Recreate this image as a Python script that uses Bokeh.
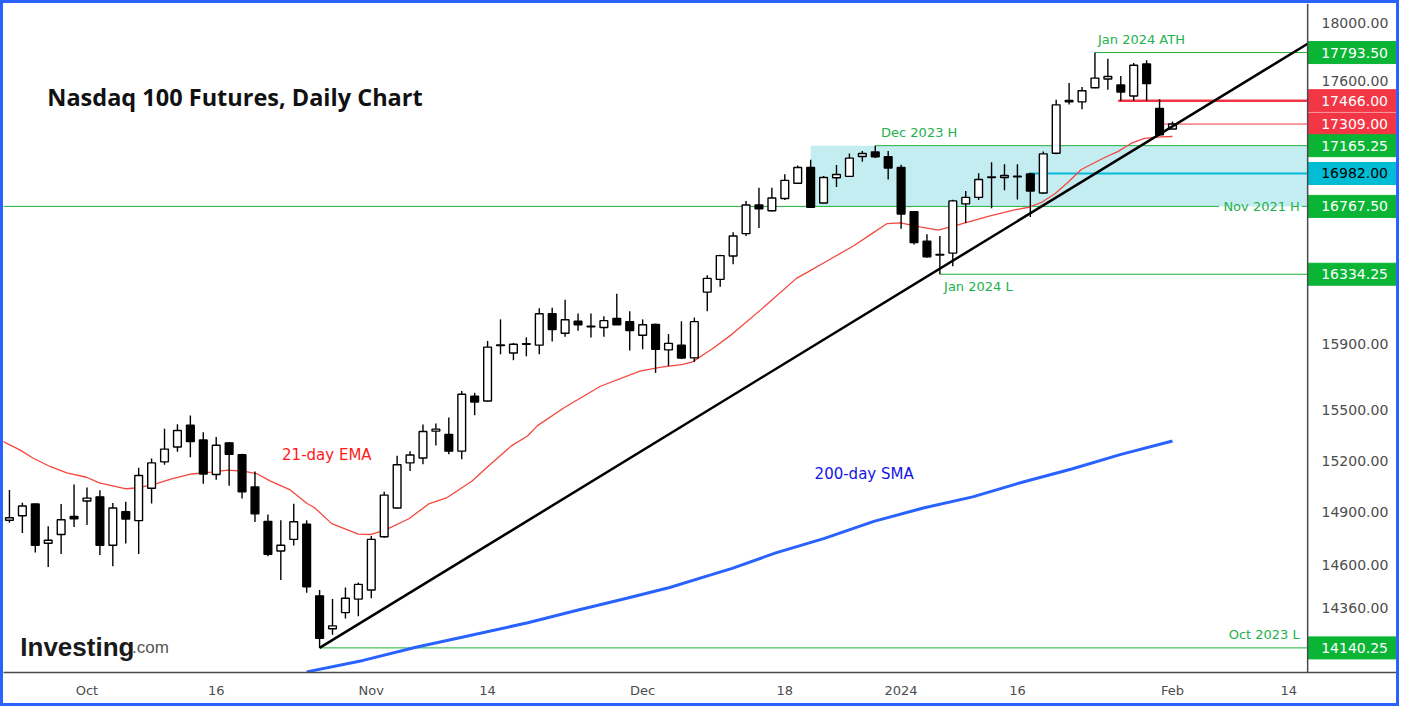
import pandas as pd
from bokeh.plotting import figure
from bokeh.models import (Range1d, FixedTicker, NumeralTickFormatter, Label,
                          ColumnDataSource, Span)
from bokeh.core.properties import value
from bokeh.embed import file_html
from bokeh.resources import INLINE

# ---------------- data ----------------
holidays = ["2023-11-23", "2023-12-25", "2024-01-01", "2024-01-15"]
trading_days = [d for d in pd.bdate_range("2023-09-22", "2024-02-16")
                if d.strftime("%Y-%m-%d") not in holidays]

open_ = [14854, 14880, 14948, 14723, 14773, 14876, 14965, 14989, 14712, 14904,
         14852, 15039, 15193, 15280, 15409, 15322, 15119, 15305, 15235, 15046,
         14848, 14679, 14745, 14831, 14427, 14245, 14334, 14409, 14460, 14760,
         14925, 15187, 15216, 15374, 15355, 15256, 15583, 15554, 15890, 15845,
         15899, 15893, 16087, 15966, 16040, 16006, 16002, 16057, 16038, 15954,
         16021, 15864, 15893, 15815, 16222, 16302, 16450, 16592, 16777, 16739,
         16819, 16918, 17021, 16790, 16954, 16963, 17094, 17124, 17092, 17021,
         16733, 16544, 16455, 16468, 16784, 16826, 16956, 16956, 16961, 16979,
         16854, 17115, 17468, 17458, 17553, 17613, 17572, 17498, 17715, 17414,
         17276]
high = [15029, 14955, 14950, 14820, 14948, 15061, 15044, 15027, 14953, 14961,
        15159, 15212, 15388, 15415, 15468, 15368, 15339, 15310, 15241, 15137,
        14887, 14854, 14949, 14854, 14460, 14410, 14474, 14502, 14764, 15018,
        15229, 15256, 15413, 15419, 15456, 15615, 15603, 15919, 16052, 15907,
        15941, 16121, 16124, 16174, 16089, 16089, 16071, 16211, 16102, 16052,
        16026, 15961, 16040, 16063, 16328, 16457, 16601, 16803, 16888, 16888,
        16977, 17034, 17072, 16965, 17037, 17113, 17130, 17165.25, 17130, 17040,
        16735, 16589, 16577, 16811, 16868, 16984, 17055, 17042, 17042, 16986,
        17126, 17473, 17586, 17559, 17793.5, 17751, 17633, 17722, 17740, 17475,
        17326]
low = [14840, 14782, 14671, 14588, 14662, 14816, 14827, 14656, 14593, 14721,
       14662, 14951, 15176, 15252, 15220, 15065, 15088, 15053, 14980, 14844,
       14649, 14516, 14710, 14445, 14140.25, 14212, 14302, 14314, 14414, 14755,
       14920, 15139, 15179, 15289, 15237, 15208, 15469, 15550, 15837, 15801,
       15825, 15837, 15916, 15945, 15981, 15940, 15945, 16017, 15861, 15868,
       15724, 15766, 15808, 15791, 16103, 16256, 16398, 16577, 16629, 16735,
       16809, 16915, 16760, 16788, 16894, 16960, 17059, 17083, 16943, 16623,
       16523, 16438, 16334.25, 16384, 16661, 16809, 16756, 16873, 16813, 16699,
       16848, 17109, 17440, 17409, 17550, 17539, 17466, 17466, 17466, 17230,
       17274]
close = [14869, 14936, 14712, 14740, 14857, 14863, 14982, 14712, 14925, 14861,
         15113, 15187, 15268, 15378, 15312, 15122, 15291, 15237, 15019, 14891,
         14660, 14712, 14846, 14478, 14192, 14261, 14414, 14491, 14745, 14999,
         15176, 15233, 15372, 15386, 15256, 15595, 15548, 15881, 15895, 15899,
         15902, 16087, 15989, 16050, 16019, 16009, 16044, 16019, 15983, 16019,
         15868, 15904, 15814, 16038, 16308, 16452, 16577, 16777, 16752, 16822,
         16937, 17021, 16762, 16956, 16975, 17083, 17113, 17092, 17018, 16718,
         16535, 16444, 16460, 16803, 16826, 16943, 16960, 16969, 16964, 16867,
         17111, 17438, 17458, 17533, 17619, 17630, 17524, 17706, 17581, 17238,
         17309]

# 21-day EMA (bar position, value)
ema_pos = [-0.54, 0.84, 1.84, 3.14, 4.44, 5.97, 6.96, 9.03, 10.02, 11.32, 12.55,
           14.08, 15.61, 16.91, 18.21, 19.2, 20.2, 21.73, 23.03, 23.57, 24.94,
           26.99, 28.0, 29.15, 30.91, 32.44, 33.87, 35.78, 37.03, 38.84, 40.09,
           40.86, 42.92, 45.73, 48.79, 50.32, 52.1, 52.87, 53.89, 54.4, 55.93,
           58.45, 60.9, 61.8, 63.33, 65.34, 66.77, 67.92, 68.94, 70.47, 71.87,
           73.27, 75.06, 75.82, 77.86, 78.88, 79.88, 80.93, 81.94, 82.94, 84.75,
           85.77, 86.79, 87.81, 89.06, 90.0]
ema_val = [15314, 15262, 15214, 15166, 15128, 15103, 15070, 15036, 15042, 15065,
           15093, 15122, 15133, 15145, 15137, 15122, 15080, 15029, 14951, 14929,
           14835, 14775, 14773, 14801, 14863, 14948, 14985, 15080, 15166, 15287,
           15345, 15407, 15514, 15643, 15735, 15757, 15775, 15791, 15845, 15871,
           15961, 16133, 16308, 16349, 16421, 16515, 16594, 16657, 16661, 16636,
           16615, 16645, 16687, 16704, 16746, 16762, 16794, 16851, 16926, 17008,
           17087, 17126, 17180, 17213, 17224, 17226]

# 200-day SMA
sma_pos = [23.0, 27.37, 31.45, 35.02, 40.11, 43.94, 47.77, 51.09, 54.4, 55.93,
           59.24, 63.07, 66.89, 70.72, 74.54, 78.37, 82.2, 86.02, 90.0]
sma_val = [14010, 14072, 14144, 14198, 14278, 14347, 14414, 14474, 14547, 14581,
           14667, 14751, 14848, 14925, 14989, 15074, 15151, 15237, 15316]

tick_dates = ["2023-10-02", "2023-10-16", "2023-11-01", "2023-11-14", "2023-12-01",
              "2023-12-18", "2024-01-02", "2024-01-16", "2024-02-01", "2024-02-14"]
tick_labels = ["Oct", "16", "Nov", "14", "Dec", "18", "2024", "16", "Feb", "14"]
y_ticks = [14360, 14600, 14900, 15200, 15500, 15900, 17600, 18000]

levels = [17793.50, 17466.00, 17309.00, 17165.25, 16982.00, 16767.50, 16334.25, 14140.25]
level_start = [84.0, 85.8, 89.2, 67.0, 78.9, None, 72.0, 24.0]
level_kind = ["g", "r", "r", "g", "c", "g", "g", "g"]
level_width = [1, 2.5, 1, 1, 2, 1, 1, 1]

zone_left, zone_top, zone_bottom = 62.0, 17165.25, 16767.50
trend_start = (24.0, 14140.25)
trend_end = (100.46, 17854.0)

level_texts = ["Jan 2024 ATH", "Dec 2023 H", "Nov 2021 H", "Jan 2024 L", "Oct 2023 L"]
level_text_pos = [(87.6, 17881), (70.4, 17256), (96.9, 16767.5), (74.98, 16260), (97.1, 14215)]
nov_gap = (93.6, 100.0)

X_START, X_SPLIT, X_FULL = -0.46, 100.46, 107.8
BADGE_X = 104.09
Y_LOW, Y_HIGH = 14006.5, 18133.6

GREEN_LINE = "#21b13a"
GREEN_BADGE = "#0ab536"
GREEN_TEXT = "#22b14c"
RED = "#f23645"
CYAN = "#00bcd4"
line_colors = {"g": GREEN_LINE, "r": RED, "c": CYAN}
badge_colors = {"g": GREEN_BADGE, "r": RED, "c": CYAN}
badge_text = {"g": "white", "r": "white", "c": "black"}

# ---------------- figure ----------------
p = figure(width=1399, height=706, x_range=Range1d(X_START, X_FULL),
           y_range=Range1d(Y_LOW, Y_HIGH), y_axis_type="log",
           y_axis_location="right", output_backend="svg", toolbar_location=None,
           min_border_left=0, min_border_top=0, min_border_right=0,
           min_border_bottom=37, background_fill_color="white",
           border_fill_color="white")
p.grid.visible = False
p.outline_line_color = None
p.styles = {"border": "3px solid #2962ff"}

# zone
p.quad(left=[zone_left], right=[X_SPLIT], top=[zone_top], bottom=[zone_bottom],
       fill_color="#c4edf2", line_color=None)

# horizontal levels
for lev, st, kind, w in zip(levels, level_start, level_kind, level_width):
    col = line_colors[kind]
    if st is None:
        p.segment(x0=[X_START - 1, nov_gap[1]], y0=[lev, lev],
                  x1=[nov_gap[0], X_SPLIT], y1=[lev, lev],
                  line_color=col, line_width=w)
    else:
        p.segment(x0=[st], y0=[lev], x1=[X_SPLIT], y1=[lev],
                  line_color=col, line_width=w)

# moving averages
p.line(sma_pos, sma_val, line_color="#2962ff", line_width=3)
p.line(ema_pos, ema_val, line_color="#f4473d", line_width=1.3)

# candles
n = len(close)
idx = list(range(n))
src = ColumnDataSource(dict(
    x=idx, high=high, low=low,
    top=[max(o, c) for o, c in zip(open_, close)],
    bottom=[min(o, c) for o, c in zip(open_, close)],
    fill=["white" if c >= o else "black" for o, c in zip(open_, close)],
))
p.segment(x0="x", y0="low", x1="x", y1="high", source=src,
          line_color="black", line_width=1.4)
p.vbar(x="x", width=0.6, top="top", bottom="bottom", fill_color="fill",
       line_color="black", line_width=1.4, source=src)

# trend line
p.line([trend_start[0], trend_end[0]], [trend_start[1], trend_end[1]],
       line_color="black", line_width=2.5)

# price-scale separator
p.add_layout(Span(location=X_SPLIT, dimension="height", line_color="#4a4a4a",
                  line_width=1.5))

# price badges
bsrc = ColumnDataSource(dict(
    x=[BADGE_X] * len(levels), y=levels,
    text=[f"{lev:.2f}" for lev in levels],
    bg=[badge_colors[k] for k in level_kind],
    fg=[badge_text[k] for k in level_kind],
))
p.rect(x="x", y="y", width=93, height=22, width_units="screen",
       height_units="screen", fill_color="bg", line_color="bg", source=bsrc)
p.text(x="x", y="y", text="text", text_color="fg", text_align="center",
       text_baseline="middle", text_font=value("DejaVu Sans"),
       text_font_size="14px", source=bsrc)

# ---------------- axes ----------------
day_pos = {d.strftime("%Y-%m-%d"): i for i, d in enumerate(trading_days)}
tick_pos = [day_pos[d] for d in tick_dates]

xax = p.xaxis[0]
xax.ticker = FixedTicker(ticks=tick_pos)
xax.major_label_overrides = {pos: lab for pos, lab in zip(tick_pos, tick_labels)}
xax.major_tick_line_color = None
xax.minor_tick_line_color = None
xax.major_tick_out = 0
xax.major_tick_in = 0
xax.axis_line_color = "#4a4a4a"
xax.axis_line_width = 1.5
xax.major_label_text_font = "DejaVu Sans"
xax.major_label_text_font_size = "13px"
xax.major_label_text_color = "#4d4d4d"
xax.major_label_standoff = 10

yax = p.yaxis[0]
yax.ticker = FixedTicker(ticks=y_ticks)
yax.formatter = NumeralTickFormatter(format="0.00")
yax.major_tick_line_color = None
yax.minor_tick_line_color = None
yax.major_tick_out = 0
yax.major_tick_in = 0
yax.axis_line_color = None
yax.major_label_text_font = "DejaVu Sans"
yax.major_label_text_font_size = "14px"
yax.major_label_text_color = "#4d4d4d"
yax.major_label_standoff = -81

# level texts
for t, (tx, ty) in zip(level_texts, level_text_pos):
    p.add_layout(Label(x=tx, y=ty, text=t, text_font="DejaVu Sans",
                       text_font_size="13px", text_color=GREEN_TEXT,
                       text_align="center", text_baseline="middle"))

p.add_layout(Label(x=24.56, y=15235, text="21-day EMA", text_font="DejaVu Sans",
                   text_font_size="15px", text_color="#ff1a1a",
                   text_align="center", text_baseline="middle"))
p.add_layout(Label(x=66.14, y=15122, text="200-day SMA", text_font="DejaVu Sans",
                   text_font_size="15px", text_color="#1414e6",
                   text_align="center", text_baseline="middle"))

# title
p.add_layout(Label(x=2.93, y=17493, text="Nasdaq 100 Futures, Daily Chart",
                   text_font="Open Sans", text_font_size="23.5px",
                   text_font_style="bold", text_color="#111111",
                   text_align="left", text_baseline="middle"))

# logo
p.add_layout(Label(x=0.84, y=14144, text="Investing", text_font="Liberation Sans",
                   text_font_size="26px", text_font_style="bold",
                   text_color="#1a1a1a", text_align="left",
                   text_baseline="alphabetic"))
p.add_layout(Label(x=9.49, y=14144, text=".com", text_font="Liberation Sans",
                   text_font_size="17px", text_color="#555555",
                   text_align="left", text_baseline="alphabetic"))

open("out.html", "w").write(file_html(p, INLINE))
